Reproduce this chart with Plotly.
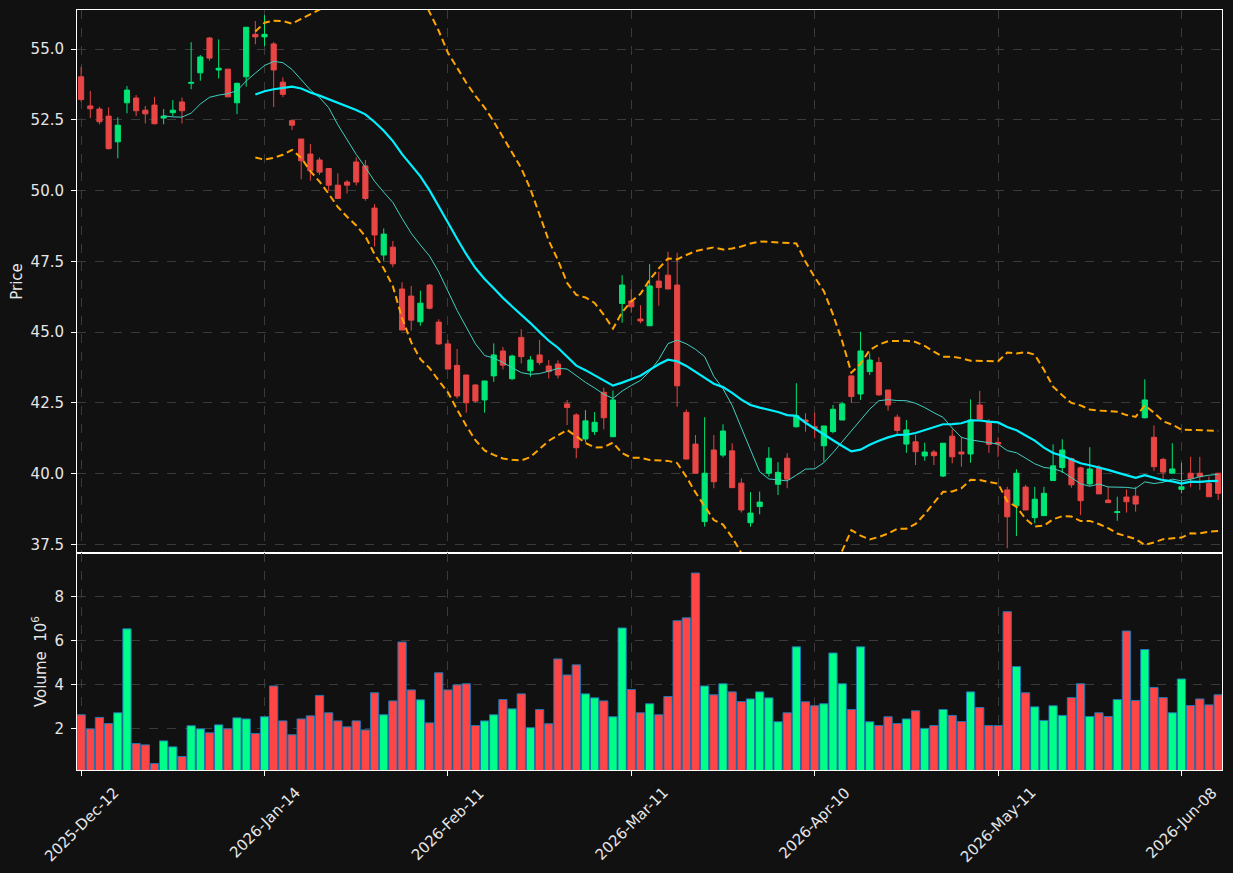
import pandas as pd
import plotly.graph_objects as go
from plotly.subplots import make_subplots

# ---------------- data ----------------
holidays = ["2025-12-25", "2025-12-26", "2026-01-01", "2026-04-03", "2026-04-06", "2026-05-01"]
all_days = pd.bdate_range("2025-12-12", "2026-06-12")
days = [d for d in all_days if d.strftime("%Y-%m-%d") not in holidays]
dates = [d.strftime("%Y-%m-%d") for d in days]

opens = [54.02, 52.99, 52.88, 52.63, 51.72, 53.10, 53.27, 52.84, 53.02, 52.56,
         52.75, 53.13, 53.79, 54.16, 55.39, 54.26, 54.29, 53.10, 54.02, 55.52,
         55.43, 55.18, 53.83, 52.47, 51.82, 51.29, 51.08, 50.78, 50.19, 50.30,
         51.01, 50.87, 49.38, 47.72, 48.00, 46.52, 46.27, 45.36, 46.66, 45.35,
         44.58, 43.82, 43.48, 43.13, 42.60, 43.45, 44.33, 43.35, 44.81, 43.63,
         44.19, 43.80, 43.87, 42.46, 42.07, 41.22, 41.48, 42.87, 41.30, 46.01,
         46.10, 45.46, 45.22, 46.80, 47.01, 46.66, 42.16, 41.04, 38.30, 40.83,
         40.65, 40.80, 39.66, 38.26, 38.83, 40.01, 39.62, 40.54, 41.65, 41.89,
         41.65, 40.98, 41.48, 41.89, 43.45, 42.81, 43.60, 43.92, 42.95, 41.99,
         41.04, 41.12, 40.62, 40.76, 39.91, 41.32, 40.76, 40.69, 42.42, 41.83,
         41.10, 39.42, 38.86, 39.52, 38.44, 38.51, 39.75, 40.21, 40.53, 40.20,
         39.63, 40.22, 39.06, 38.62, 39.17, 39.20, 41.97, 41.28, 40.50, 40.01,
         39.44, 40.01, 40.01, 39.65, 40.01]
highs = [54.37, 53.52, 52.96, 52.94, 52.59, 53.69, 53.37, 52.99, 53.31, 52.88,
         53.20, 53.29, 55.24, 54.79, 55.43, 55.34, 54.30, 53.81, 55.77, 55.99,
         56.20, 55.25, 54.00, 52.52, 51.82, 51.64, 51.17, 50.78, 50.61, 50.37,
         51.17, 51.08, 49.52, 48.66, 48.22, 46.76, 46.63, 46.46, 46.70, 45.45,
         44.72, 44.40, 43.48, 43.15, 43.27, 44.60, 44.47, 44.20, 45.10, 44.15,
         44.72, 44.01, 44.00, 42.60, 42.13, 42.24, 42.17, 43.03, 42.93, 47.01,
         46.52, 45.95, 47.40, 47.13, 47.84, 47.80, 42.26, 41.36, 41.99, 41.36,
         41.74, 41.07, 39.83, 39.34, 39.36, 40.93, 40.40, 40.72, 43.19, 42.13,
         42.15, 41.68, 42.42, 42.53, 43.45, 45.01, 44.25, 44.11, 42.95, 42.09,
         41.89, 41.36, 41.09, 40.83, 41.07, 41.56, 41.30, 42.62, 42.92, 41.92,
         41.28, 39.53, 40.15, 39.60, 39.53, 39.53, 41.03, 41.21, 40.56, 40.24,
         40.93, 40.30, 39.53, 39.18, 39.44, 39.53, 43.33, 41.70, 40.55, 41.07,
         40.38, 40.59, 40.59, 39.89, 40.01]
lows = [53.14, 52.56, 52.34, 51.45, 51.14, 52.73, 52.63, 52.37, 52.34, 52.34,
        52.63, 52.37, 53.58, 53.88, 54.59, 53.96, 53.31, 52.70, 53.67, 55.17,
        55.10, 52.95, 53.30, 52.14, 50.40, 50.35, 50.55, 49.99, 49.72, 49.90,
        50.18, 49.64, 48.02, 47.52, 47.29, 45.07, 45.05, 45.22, 45.80, 44.54,
        43.69, 42.65, 42.15, 42.50, 42.15, 43.24, 43.68, 43.30, 43.89, 43.42,
        43.83, 43.36, 43.36, 41.71, 40.54, 41.10, 41.36, 41.56, 41.30, 45.33,
        45.68, 45.31, 45.22, 45.93, 46.52, 42.36, 40.51, 40.01, 38.12, 39.48,
        40.57, 39.50, 38.62, 38.12, 38.56, 39.89, 39.24, 39.48, 41.63, 41.48,
        41.25, 40.42, 41.42, 41.89, 42.49, 42.60, 43.48, 42.74, 42.22, 41.40,
        40.73, 40.30, 40.45, 40.30, 39.87, 40.36, 40.24, 40.38, 41.92, 40.73,
        40.59, 37.36, 37.79, 38.71, 38.24, 38.51, 39.75, 40.01, 39.50, 38.53,
        39.56, 39.28, 38.97, 38.33, 38.62, 38.65, 41.95, 40.09, 39.80, 40.01,
        39.30, 39.51, 39.42, 39.18, 39.06]
closes = [53.22, 52.89, 52.43, 51.48, 52.31, 53.55, 52.82, 52.71, 52.36, 52.63,
          52.84, 52.82, 53.82, 54.72, 54.68, 54.32, 53.31, 53.79, 55.77, 55.43,
          55.52, 54.26, 53.40, 52.31, 51.05, 50.70, 50.65, 50.19, 49.72, 50.19,
          50.30, 49.72, 48.43, 48.46, 47.41, 45.07, 45.42, 46.02, 45.84, 44.58,
          43.69, 42.74, 42.50, 42.56, 43.27, 44.19, 43.83, 44.15, 44.13, 44.01,
          43.92, 43.61, 43.48, 42.33, 40.91, 41.86, 41.81, 41.97, 42.60, 46.66,
          45.89, 45.39, 46.63, 46.57, 46.52, 43.10, 40.51, 40.01, 40.01, 39.71,
          41.50, 39.50, 38.71, 38.60, 38.99, 40.54, 40.04, 39.80, 42.04, 41.83,
          41.60, 41.68, 42.27, 42.46, 42.72, 44.33, 44.01, 42.78, 42.42, 41.52,
          41.54, 40.77, 40.76, 40.63, 41.07, 40.59, 40.69, 41.89, 41.92, 41.03,
          41.04, 38.47, 40.01, 38.71, 39.09, 39.30, 40.27, 40.83, 39.60, 39.04,
          40.16, 39.28, 38.97, 38.65, 39.00, 38.92, 42.60, 40.24, 40.05, 40.16,
          39.53, 39.83, 39.89, 39.18, 39.30]
volumes = [2.64, 2.00, 2.52, 2.24, 2.73, 6.55, 1.33, 1.27, 0.42, 1.45,
           1.18, 0.74, 2.14, 2.00, 1.82, 2.18, 2.00, 2.50, 2.45, 1.79,
           2.55, 3.95, 2.36, 1.73, 2.45, 2.59, 3.52, 2.73, 2.36, 2.09,
           2.36, 1.95, 3.64, 2.64, 3.27, 5.95, 3.77, 3.32, 2.27, 4.55,
           3.77, 4.00, 4.05, 2.15, 2.36, 2.64, 3.33, 2.91, 3.59, 2.05,
           2.88, 2.23, 5.18, 4.45, 4.91, 3.59, 3.41, 3.27, 2.55, 6.59,
           3.79, 2.73, 3.14, 2.64, 3.47, 6.92, 7.05, 9.09, 3.95, 3.55,
           4.05, 3.68, 3.24, 3.36, 3.68, 3.41, 2.32, 2.73, 5.73, 3.23,
           3.05, 3.14, 5.45, 4.05, 2.88, 5.73, 2.32, 2.15, 2.55, 2.24,
           2.45, 2.82, 2.02, 2.15, 2.88, 2.61, 2.33, 3.68, 2.97, 2.15,
           2.15, 7.33, 4.83, 3.64, 3.00, 2.38, 3.05, 2.61, 3.42, 4.05,
           2.56, 2.73, 2.56, 3.33, 6.45, 3.29, 5.61, 3.88, 3.42, 2.73,
           4.27, 3.06, 3.36, 3.09, 3.55]

n = len(dates)
assert n == len(opens) == len(highs) == len(lows) == len(closes) == len(volumes) == 125

tick_idx = list(range(0, n, 20))
tick_vals = [dates[i] for i in tick_idx]
tick_text = [days[i].strftime("%Y-%b-%d") for i in tick_idx]

close_s = pd.Series(closes)
ma10 = close_s.rolling(10).mean()
ma20 = close_s.rolling(20).mean()
sd20 = close_s.rolling(20).std()
bb_up = ma20 + 2 * sd20
bb_lo = ma20 - 2 * sd20

UP_C, DN_C = "#00e676", "#e84545"
VUP_C, VDN_C = "#00ff88", "#ff4545"
vol_colors = [VUP_C if c >= o else VDN_C for o, c in zip(opens, closes)]

# ---------------- figure ----------------
fig = make_subplots(rows=2, cols=1, shared_xaxes=True, vertical_spacing=0,
                    row_heights=[0.7145, 0.2855])

fig.add_trace(go.Candlestick(
    x=dates, open=opens, high=highs, low=lows, close=closes,
    increasing=dict(line=dict(color=UP_C, width=1), fillcolor=UP_C),
    decreasing=dict(line=dict(color=DN_C, width=1), fillcolor=DN_C),
    whiskerwidth=0, showlegend=False), row=1, col=1)

fig.add_trace(go.Scatter(x=dates, y=ma10, mode="lines",
                         line=dict(color="#40d0c0", width=1), showlegend=False), row=1, col=1)
fig.add_trace(go.Scatter(x=dates, y=ma20, mode="lines",
                         line=dict(color="#00f0ff", width=2.2), showlegend=False), row=1, col=1)
fig.add_trace(go.Scatter(x=dates, y=bb_up, mode="lines",
                         line=dict(color="#ffa500", width=2, dash="7px,4px"), showlegend=False), row=1, col=1)
fig.add_trace(go.Scatter(x=dates, y=bb_lo, mode="lines",
                         line=dict(color="#ffa500", width=2, dash="7px,4px"), showlegend=False), row=1, col=1)

fig.add_trace(go.Bar(x=dates, y=volumes,
                     marker=dict(color=vol_colors, line=dict(color="#1f77b4", width=1)),
                     showlegend=False), row=2, col=1)

BG = "#111111"
FONT_C = "#e6e6e6"
GRID_C = "#3a3a3a"

axis_common = dict(showline=True, linecolor="white", linewidth=1, mirror=True,
                   showgrid=True, gridcolor=GRID_C, griddash="dash", gridwidth=1,
                   zeroline=False, tickfont=dict(size=15, color=FONT_C),
                   tickcolor="white", ticklen=5)

fig.update_layout(
    width=1233, height=873,
    margin=dict(l=77, r=11, t=10, b=103),
    paper_bgcolor=BG, plot_bgcolor=BG,
    font=dict(family="DejaVu Sans", size=15, color=FONT_C),
    bargap=0.1, boxgap=0.2, boxgroupgap=0.3,
    showlegend=False,
)

xrange = [-0.45, n - 1 + 0.42]
fig.update_xaxes(type="category", range=xrange, tickvals=tick_vals,
                 rangeslider_visible=False, showticklabels=False, **axis_common)
fig.update_xaxes(ticks="", row=1, col=1)
fig.update_xaxes(ticks="outside", row=2, col=1)

# rotated date labels centred under their ticks
for tv, tt in zip(tick_vals, tick_text):
    fig.add_annotation(x=tv, xref="x2", y=-0.0145, yref="paper", text=tt,
                       textangle=-45, showarrow=False, xanchor="center", yanchor="top",
                       font=dict(size=15, color=FONT_C, family="DejaVu Sans"))

fig.update_yaxes(ticklabelstandoff=4, **axis_common)
fig.update_yaxes(range=[37.19, 56.38], tickvals=[37.5, 40, 42.5, 45, 47.5, 50, 52.5, 55],
                 tickformat=".1f", ticks="outside",
                 title=dict(text="Price", font=dict(size=15, color=FONT_C), standoff=4),
                 row=1, col=1)
fig.update_yaxes(range=[0.3 * min(volumes), 1.1 * max(volumes)], tickvals=[2, 4, 6, 8],
                 ticks="outside",
                 title=dict(text="Volume  10<sup>6</sup>", font=dict(size=15, color=FONT_C), standoff=4),
                 row=2, col=1)

fig.write_html("out.html")
